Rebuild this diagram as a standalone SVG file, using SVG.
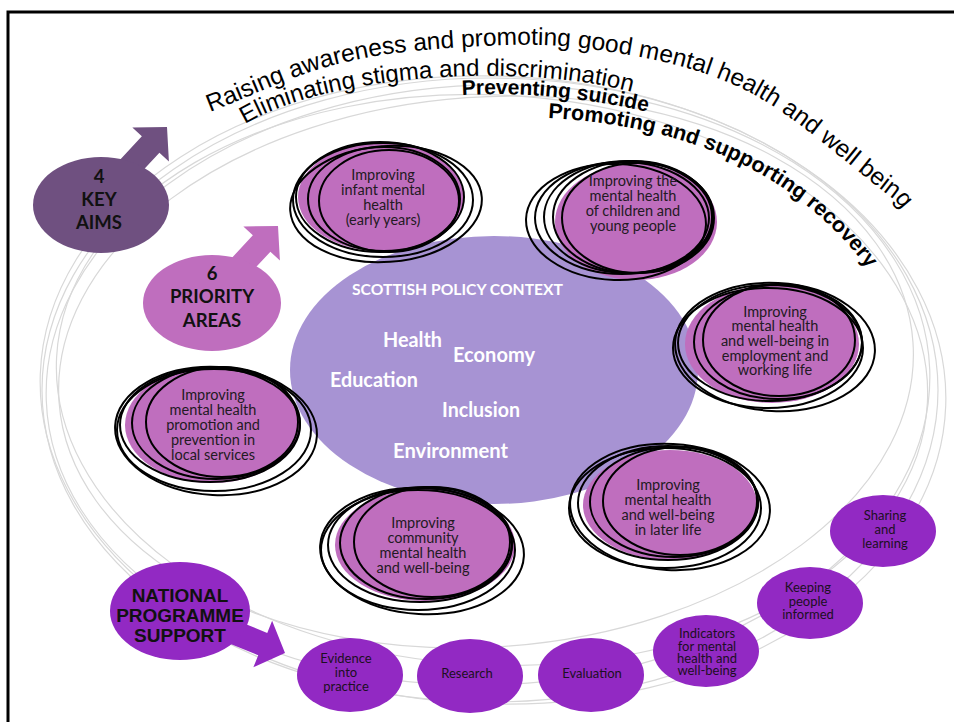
<svg xmlns="http://www.w3.org/2000/svg" width="954" height="722" viewBox="0 0 954 722">
<defs>
<style>
.arc{fill:none;stroke:#d8d8d8;stroke-width:1.2}
.ring{fill:none;stroke:#000;stroke-width:2}
.pfill{fill:#bf6ebe}
.ptxt{font-family:Lato,"Open Sans",sans-serif;font-size:14.5px;fill:#231a23;text-anchor:middle}
.btxt{font-family:Lato,"Open Sans",sans-serif;font-size:13px;fill:#1c0f22;text-anchor:middle}
.bfill{fill:#9229c3}
.lbl{font-family:Lato,sans-serif;font-weight:bold;font-size:18.5px;fill:#111;text-anchor:middle}
.nps{font-family:"Liberation Sans",Arial,sans-serif;font-weight:bold;font-size:19px;fill:#111;text-anchor:middle}
.ctx{font-family:Lato,sans-serif;font-weight:bold;fill:#fff;font-size:20px}
.wa{font-family:"Liberation Sans",Arial,sans-serif;fill:#000}
</style>
<path id="arrow" d="M0,0 L-24,-25 L-24,-12 L-90,-12 L-90,12 L-24,12 L-24,25 Z"/>
<path id="p1" d="M210,112 C250,96.7 290,76.7 330,66 C370,55.3 406.7,50.8 450,48 C493.3,45.2 540.8,42 590,49 C639.2,56 694.2,64.8 745,90 C795.8,115.2 845,163.3 895,200 L925,236"/>
<path id="p2" d="M245,124 C330,74 520,62 632,92 L657,101"/>
<path id="p3" d="M462,95 Q555,90 652,113 L672,119"/>
<path id="p4" d="M548,118 C650,124 770,150 858,256 L872,274"/>
</defs>

<rect x="8" y="12" width="970" height="730" fill="#fff" stroke="#000" stroke-width="3"/>

<g id="connectors">
<ellipse class="arc" cx="490" cy="390" rx="448" ry="312"/>
<ellipse class="arc" cx="488" cy="385" rx="442" ry="300" transform="rotate(-2 488 385)"/>
<ellipse class="arc" cx="492" cy="380" rx="436" ry="285" transform="rotate(3 492 380)"/>
<ellipse class="arc" cx="486" cy="372" rx="428" ry="275" transform="rotate(-4 486 372)"/>
<ellipse class="arc" cx="493" cy="390" rx="453" ry="314" transform="rotate(2 493 390)"/>
</g>

<g id="context">
<ellipse cx="494" cy="370" rx="204" ry="134" fill="#a793d3"/>
<text class="ctx" x="352" y="295" style="font-size:16px" textLength="211" lengthAdjust="spacingAndGlyphs">SCOTTISH POLICY CONTEXT</text>
<text class="ctx" x="383" y="347" textLength="59" lengthAdjust="spacingAndGlyphs">Health</text>
<text class="ctx" x="453" y="362" textLength="82" lengthAdjust="spacingAndGlyphs">Economy</text>
<text class="ctx" x="330" y="387" textLength="88" lengthAdjust="spacingAndGlyphs">Education</text>
<text class="ctx" x="442" y="417" textLength="78" lengthAdjust="spacingAndGlyphs">Inclusion</text>
<text class="ctx" x="393" y="458" textLength="115" lengthAdjust="spacingAndGlyphs">Environment</text>
</g>

<g id="infant">
<ellipse class="pfill" cx="381" cy="197" rx="83" ry="54"/>
<ellipse class="ring" cx="380" cy="197" rx="84" ry="55"/>
<ellipse class="ring" cx="384" cy="199" rx="76" ry="52"/>
<ellipse class="ring" cx="389" cy="201" rx="70" ry="51"/>
<ellipse class="ring" cx="383" cy="200" rx="90" ry="57"/>
<ellipse class="ring" cx="386" cy="204" rx="96" ry="58" transform="rotate(-4 386 204)"/>
<text class="ptxt"><tspan x="383" y="180">Improving</tspan><tspan x="383" y="195">infant mental</tspan><tspan x="383" y="210">health</tspan><tspan x="383" y="225">(early years)</tspan></text>
</g>

<g id="children">
<ellipse class="pfill" cx="636" cy="222" rx="81" ry="58"/>
<ellipse class="ring" cx="622" cy="218" rx="87" ry="56"/>
<ellipse class="ring" cx="628" cy="217" rx="84" ry="56"/>
<ellipse class="ring" cx="633" cy="217" rx="80" ry="56"/>
<ellipse class="ring" cx="638" cy="218" rx="76" ry="55"/>
<ellipse class="ring" cx="616" cy="222" rx="90" ry="58" transform="rotate(2 616 222)"/>
<text class="ptxt"><tspan x="633" y="186">Improving the</tspan><tspan x="633" y="201">mental health</tspan><tspan x="633" y="216">of children and</tspan><tspan x="633" y="231">young people</tspan></text>
</g>

<g id="employment">
<ellipse class="pfill" cx="772" cy="344" rx="87" ry="59"/>
<ellipse class="ring" cx="770" cy="343" rx="92" ry="58"/>
<ellipse class="ring" cx="778" cy="342" rx="84" ry="57"/>
<ellipse class="ring" cx="779" cy="340" rx="76" ry="56"/>
<ellipse class="ring" cx="768" cy="348" rx="95" ry="60"/>
<ellipse class="ring" cx="775" cy="347" rx="100" ry="64" transform="rotate(3 775 347)"/>
<text class="ptxt"><tspan x="775" y="317">Improving</tspan><tspan x="775" y="331">mental health</tspan><tspan x="775" y="346">and well-being in</tspan><tspan x="775" y="361">employment and</tspan><tspan x="775" y="375">working life</tspan></text>
</g>

<g id="local">
<ellipse class="pfill" cx="212" cy="425" rx="87" ry="58"/>
<ellipse class="ring" cx="210" cy="425" rx="90" ry="57"/>
<ellipse class="ring" cx="216" cy="423" rx="84" ry="56"/>
<ellipse class="ring" cx="222" cy="422" rx="76" ry="55"/>
<ellipse class="ring" cx="214" cy="430" rx="97" ry="61"/>
<ellipse class="ring" cx="216" cy="431" rx="101" ry="64" transform="rotate(3 216 431)"/>
<text class="ptxt"><tspan x="213" y="400">Improving</tspan><tspan x="213" y="415">mental health</tspan><tspan x="213" y="430">promotion and</tspan><tspan x="213" y="445">prevention in</tspan><tspan x="213" y="460">local services</tspan></text>
</g>

<g id="community">
<ellipse class="pfill" cx="425" cy="545" rx="90" ry="56"/>
<ellipse class="ring" cx="420" cy="545" rx="92" ry="57"/>
<ellipse class="ring" cx="426" cy="543" rx="86" ry="56"/>
<ellipse class="ring" cx="432" cy="542" rx="78" ry="55"/>
<ellipse class="ring" cx="418" cy="550" rx="97" ry="60"/>
<ellipse class="ring" cx="422" cy="551" rx="102" ry="63" transform="rotate(3 422 551)"/>
<text class="ptxt"><tspan x="423" y="528">Improving</tspan><tspan x="423" y="543">community</tspan><tspan x="423" y="558">mental health</tspan><tspan x="423" y="573">and well-being</tspan></text>
</g>

<g id="later">
<ellipse class="pfill" cx="670" cy="505" rx="87" ry="55"/>
<ellipse class="ring" cx="668" cy="503" rx="90" ry="57"/>
<ellipse class="ring" cx="674" cy="502" rx="84" ry="55"/>
<ellipse class="ring" cx="680" cy="501" rx="77" ry="54"/>
<ellipse class="ring" cx="665" cy="508" rx="96" ry="60"/>
<ellipse class="ring" cx="670" cy="507" rx="100" ry="63" transform="rotate(3 670 507)"/>
<text class="ptxt"><tspan x="668" y="490">Improving</tspan><tspan x="668" y="505">mental health</tspan><tspan x="668" y="520">and well-being</tspan><tspan x="668" y="535">in later life</tspan></text>
</g>

<g id="key-aims">
<use href="#arrow" fill="#6f5080" transform="translate(167,127) rotate(-47)"/>
<ellipse cx="101" cy="205" rx="68" ry="48" fill="#6f5080"/>
<text class="lbl"><tspan x="99" y="183">4</tspan><tspan x="99" y="206">KEY</tspan><tspan x="99" y="229">AIMS</tspan></text>
</g>

<g id="priority-areas">
<use href="#arrow" fill="#bf6ebe" transform="translate(278,226) rotate(-47)"/>
<ellipse cx="212" cy="303" rx="69" ry="48" fill="#bf6ebe"/>
<text class="lbl"><tspan x="212" y="280">6</tspan><tspan x="212" y="303">PRIORITY</tspan><tspan x="212" y="327">AREAS</tspan></text>
</g>

<g id="national">
<use href="#arrow" fill="#9229c3" transform="translate(285,653) rotate(22)"/>
<ellipse cx="180" cy="611" rx="70" ry="49" fill="#9229c3"/>
<text class="nps"><tspan x="180" y="602">NATIONAL</tspan><tspan x="180" y="622">PROGRAMME</tspan><tspan x="180" y="642">SUPPORT</tspan></text>
</g>

<g id="evidence">
<ellipse class="bfill" cx="350" cy="675" rx="53" ry="37"/>
<text class="btxt"><tspan x="346" y="663">Evidence</tspan><tspan x="346" y="677">into</tspan><tspan x="346" y="691">practice</tspan></text>
</g>
<g id="research">
<ellipse class="bfill" cx="470" cy="676" rx="53" ry="37"/>
<text class="btxt" x="467" y="678">Research</text>
</g>
<g id="evaluation">
<ellipse class="bfill" cx="591" cy="675" rx="53" ry="37"/>
<text class="btxt" x="592" y="678">Evaluation</text>
</g>
<g id="indicators">
<ellipse class="bfill" cx="706" cy="651" rx="53" ry="36"/>
<text class="btxt"><tspan x="707" y="638">Indicators</tspan><tspan x="707" y="650.5">for mental</tspan><tspan x="707" y="663">health and</tspan><tspan x="707" y="675">well-being</tspan></text>
</g>
<g id="keeping">
<ellipse class="bfill" cx="810" cy="603" rx="53" ry="36"/>
<text class="btxt"><tspan x="808" y="592">Keeping</tspan><tspan x="808" y="606">people</tspan><tspan x="808" y="619">informed</tspan></text>
</g>
<g id="sharing">
<ellipse class="bfill" cx="883" cy="531" rx="53" ry="36"/>
<text class="btxt"><tspan x="885" y="520">Sharing</tspan><tspan x="885" y="534">and</tspan><tspan x="885" y="548">learning</tspan></text>
</g>

<g id="key-aims-text">
<text class="wa" font-size="24.5"><textPath href="#p1">Raising awareness and promoting good mental health and well being</textPath></text>
<text class="wa" font-size="24"><textPath href="#p2">Eliminating stigma and discrimination</textPath></text>
<text class="wa" font-size="21" font-weight="bold"><textPath href="#p3">Preventing suicide</textPath></text>
<text class="wa" font-size="21.5" font-weight="bold"><textPath href="#p4">Promoting and supporting recovery</textPath></text>
</g>
</svg>
